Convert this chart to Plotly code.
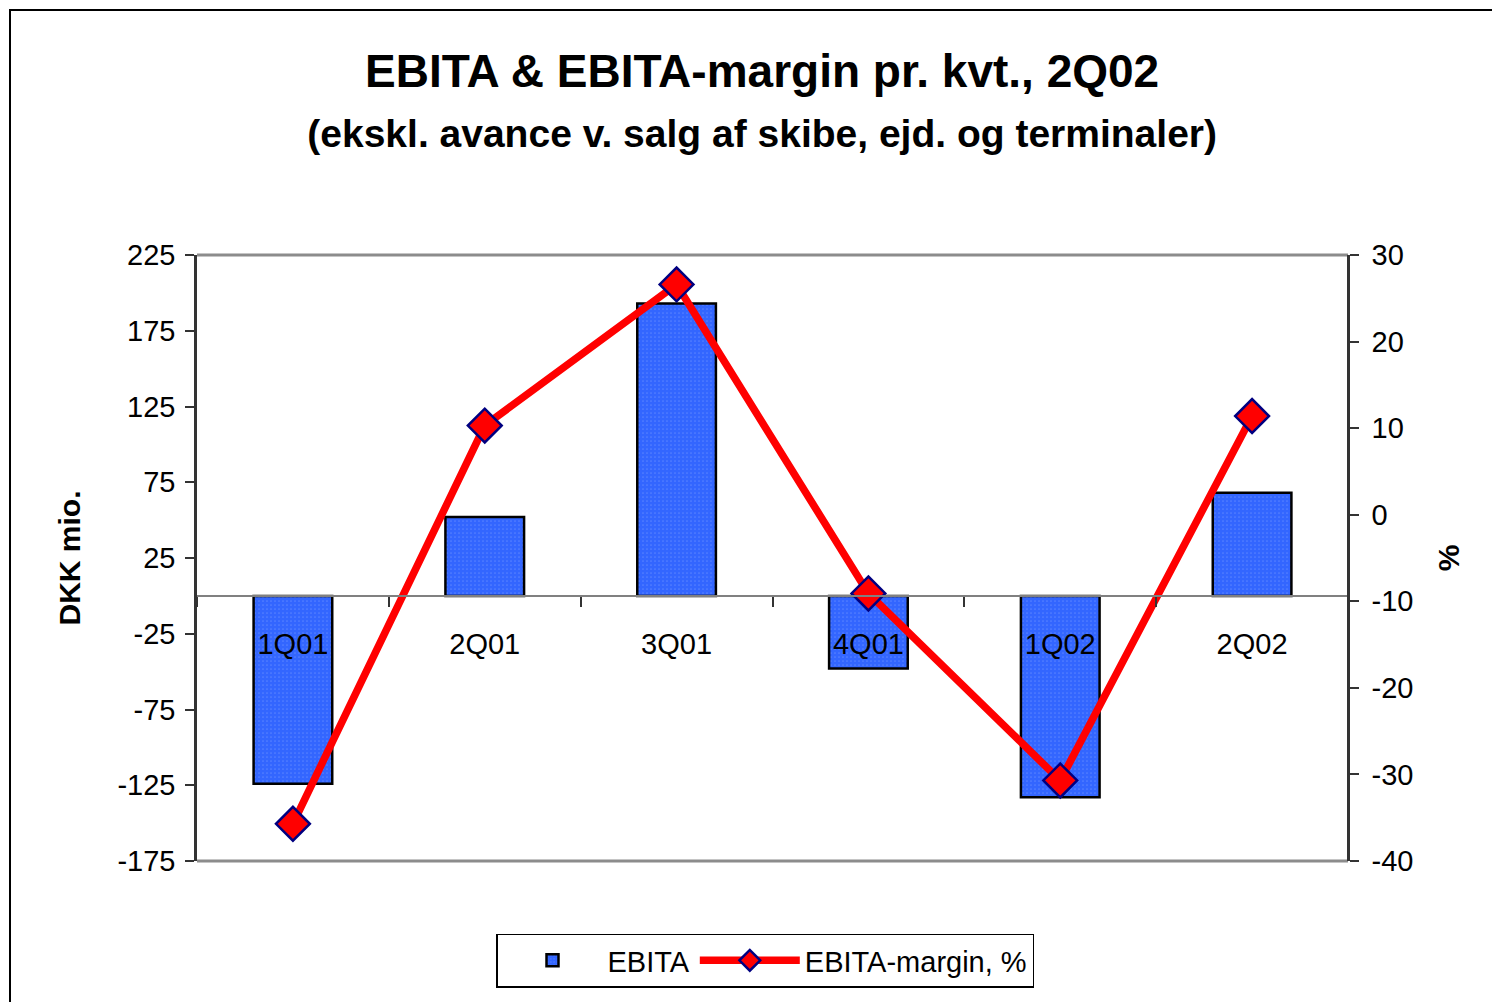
import plotly.graph_objects as go

quarters = ["1Q01", "2Q01", "3Q01", "4Q01", "1Q02", "2Q02"]
ebita = [-124, 52, 193, -48, -133, 68]
margin_pct = [-35.7, 10.3, 26.6, -9.1, -30.7, 11.4]

left_ticks = [-175, -125, -75, -25, 25, 75, 125, 175, 225]
right_ticks = [-40, -30, -20, -10, 0, 10, 20, 30]

FONT = "Liberation Sans, Arial, sans-serif"

# figure is drawn 8px in from the page edge (default body margin)
L, T, R, B = 189, 247, 160, 149
PW = 1500 - L - R
PH = 1002 - T - B

fig = go.Figure()
fig.add_trace(go.Bar(
    x=quarters, y=ebita, name="EBITA", yaxis="y",
    marker=dict(color="#3366FF", line=dict(color="black", width=2.5),
                pattern=dict(shape=".", fgcolor="#7A9BFF", size=4, solidity=0.15)),
    width=0.41,
))
fig.add_trace(go.Scatter(
    x=quarters, y=margin_pct, name="EBITA-margin, %", yaxis="y2",
    mode="lines+markers",
    line=dict(color="#FF0000", width=7.5),
    marker=dict(symbol="diamond", size=26, color="#FF0000",
                line=dict(color="#000080", width=2.5)),
))

fig.update_layout(
    width=1500, height=1002,
    margin=dict(l=L, r=R, t=T, b=B),
    paper_bgcolor="white", plot_bgcolor="white",
    font=dict(family=FONT, color="black", size=29),
    showlegend=True,
    title=dict(
        text="<b>EBITA & EBITA-margin pr. kvt., 2Q02</b><br><span style='font-size:39px'><b>(ekskl. avance v. salg af skibe, ejd. og terminaler)</b></span>",
        x=0.491, xref="paper", xanchor="center",
        y=0.921, yref="container", yanchor="top",
        font=dict(family=FONT, size=46, color="black"),
    ),
    xaxis=dict(
        type="category", anchor="free", position=175/400,
        showline=True, linecolor="#808080", linewidth=2,
        ticks="outside", tickson="boundaries", ticklen=10, tickcolor="#333333", tickwidth=1.5,
        ticklabelstandoff=22,
        tickfont=dict(size=29), showgrid=False, zeroline=False, layer="above traces",
    ),
    yaxis=dict(
        range=[-175, 225], tickvals=left_ticks, ticktext=[str(v) for v in left_ticks],
        showline=True, linecolor="#333333", linewidth=2.5,
        ticks="outside", ticklen=9, tickcolor="#333333", tickwidth=1.5,
        ticklabelstandoff=4,
        showgrid=False, zeroline=False,
        title=dict(text="<b>DKK mio.</b>", font=dict(size=30), standoff=28),
    ),
    yaxis2=dict(
        range=[-40, 30], tickvals=right_ticks, ticktext=[str(v) for v in right_ticks],
        overlaying="y", side="right", anchor="free", position=1.0,
        showline=True, linecolor="#333333", linewidth=2.5,
        ticks="outside", ticklen=9, tickcolor="#333333", tickwidth=1.5,
        ticklabelstandoff=7,
        showgrid=False, zeroline=False,
        title=dict(text="<b>%</b>", font=dict(size=30), standoff=25),
    ),
    legend=dict(
        orientation="h", x=(765 - 8 - L) / PW, xanchor="center",
        y=(852.5 - 925) / PH, yanchor="top",
        bordercolor="black", borderwidth=1.5, bgcolor="white",
        font=dict(size=29), itemwidth=100,
    ),
    shapes=[
        dict(type="line", xref="paper", yref="paper", x0=0, x1=1, y0=1, y1=1,
             line=dict(color="#8C8C8C", width=3), layer="below"),
        dict(type="line", xref="paper", yref="paper", x0=0, x1=1, y0=0, y1=0,
             line=dict(color="#8C8C8C", width=3), layer="below"),
        dict(type="rect", xref="paper", yref="paper",
             x0=(2 - L) / PW, x1=1.5, y0=-0.5, y1=1 + (T - 2) / PH,
             line=dict(color="black", width=2), fillcolor="rgba(0,0,0,0)", layer="below"),
    ],
)

fig.write_html("out.html")
